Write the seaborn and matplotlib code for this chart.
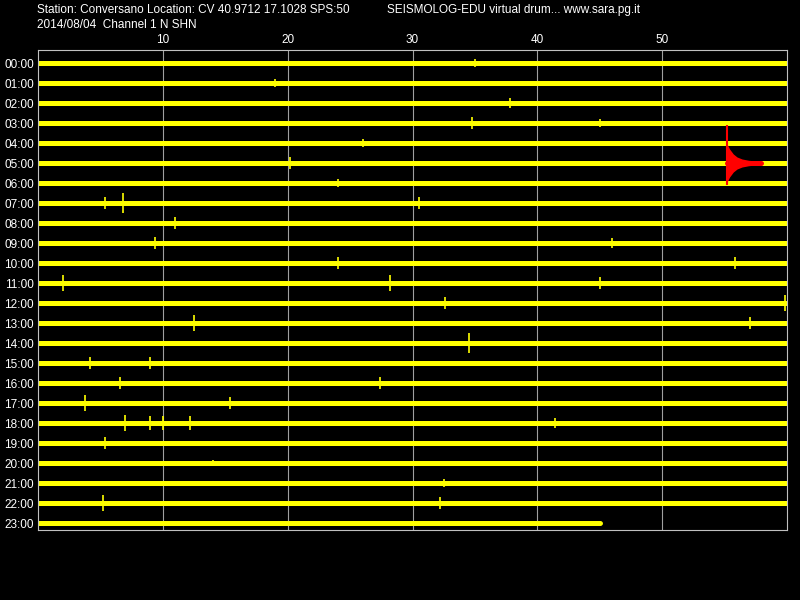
import matplotlib
matplotlib.use("Agg")
import matplotlib.pyplot as plt
import seaborn as sns
import pandas as pd

# Hours on the drum, one trace per row
hours = [f"{h:02d}:00" for h in range(24)]
# minute at which each trace ends (last hour is incomplete)
trace_end = [60] * 23 + [45]
minute_ticks = [10, 20, 30, 40, 50]

# notable spikes: (row, minute, amplitude in rows)
spike_rows = [2, 3, 3, 5, 7, 7, 7, 8, 9, 10, 10, 11, 11, 11, 12, 12, 13, 13, 14, 15, 15,
              16, 16, 17, 17, 18, 18, 18, 18, 18, 19, 21, 22, 22, 0, 1, 6, 9, 4, 20]
spike_min = [37.8, 34.8, 45.0, 20.2, 6.8, 5.4, 30.5, 11.0, 9.4, 24.0, 55.8, 2.0, 28.2, 45.0,
             59.8, 32.6, 12.5, 57.0, 34.5, 4.2, 9.0, 27.4, 6.6, 3.8, 15.4, 7.0, 9.0, 10.0,
             12.2, 41.4, 5.4, 32.5, 5.2, 32.2, 35.0, 19.0, 24.0, 46.0, 26.0, 14.0]
spike_amp = [0.25, 0.3, 0.2, 0.3, 0.5, 0.3, 0.3, 0.3, 0.3, 0.3, 0.3, 0.4, 0.4, 0.3,
             0.4, 0.3, 0.4, 0.3, 0.5, 0.3, 0.3, 0.3, 0.3, 0.4, 0.3, 0.4, 0.35, 0.35,
             0.35, 0.25, 0.3, 0.2, 0.4, 0.3, 0.2, 0.2, 0.2, 0.25, 0.2, 0.15]

# earthquake (red) on the 05:00 trace: main spike and decaying envelope
quake_minute = 55.2
quake_top = 3.1
quake_bottom = 6.1
quake_env_min = [55.2, 55.4, 55.7, 56.0, 56.4, 56.9, 57.4, 57.9]
quake_env_amp = [0.95, 0.7, 0.45, 0.3, 0.2, 0.14, 0.1, 0.08]

sns.set_theme(style="dark")
plt.rcParams["font.family"] = ["Liberation Sans", "DejaVu Sans"]

fig = plt.figure(figsize=(8, 6), dpi=100, facecolor="black")
ax = fig.add_axes([38 / 800, 70 / 600, 749 / 800, 480 / 600])
ax.set_facecolor("black")

traces = pd.DataFrame({"row": range(24), "end": trace_end})
for _, r in traces.iterrows():
    sns.lineplot(x=[0, r["end"]], y=[r["row"], r["row"]], ax=ax,
                 color="#ffff00", linewidth=3.6)

spikes = pd.DataFrame({"row": spike_rows, "minute": spike_min, "amp": spike_amp})
ax.vlines(spikes["minute"], spikes["row"] - spikes["amp"], spikes["row"] + spikes["amp"],
          color="#ffff00", linewidth=1.2)

ax.vlines([quake_minute], [quake_top], [quake_bottom], color="red", linewidth=1.5, zorder=5)
ax.fill_between(quake_env_min, [5 - a for a in quake_env_amp],
                [5 + a for a in quake_env_amp], color="red", linewidth=0, zorder=5)
ax.plot([quake_minute, quake_env_min[-1]], [5, 5], color="red", linewidth=3.6, zorder=5)

for m in minute_ticks:
    ax.axvline(m, color="#a0a0a0", linewidth=0.8, zorder=0)

ax.set_xlim(0, 60)
ax.set_ylim(23.35, -0.65)
ax.xaxis.tick_top()
ax.set_xticks(minute_ticks)
ax.set_xticklabels([str(m) for m in minute_ticks], color="white", fontsize=8.5)
ax.set_yticks(range(24))
ax.set_yticklabels(hours, color="white", fontsize=8.5)
ax.tick_params(length=0, pad=3)
ax.grid(False)
for s in ax.spines.values():
    s.set_color("#c0c0c0")
    s.set_linewidth(0.8)

fig.text(37 / 800, 1 - 10 / 600, "Station: Conversano Location: CV 40.9712 17.1028 SPS:50",
         color="white", fontsize=8.5, va="center")
fig.text(37 / 800, 1 - 25 / 600, "2014/08/04  Channel 1 N SHN",
         color="white", fontsize=8.5, va="center")
fig.text(387 / 800, 1 - 10 / 600, "SEISMOLOG-EDU virtual drum... www.sara.pg.it",
         color="white", fontsize=8.5, va="center")

fig.savefig("out.png", dpi=100, facecolor="black")
